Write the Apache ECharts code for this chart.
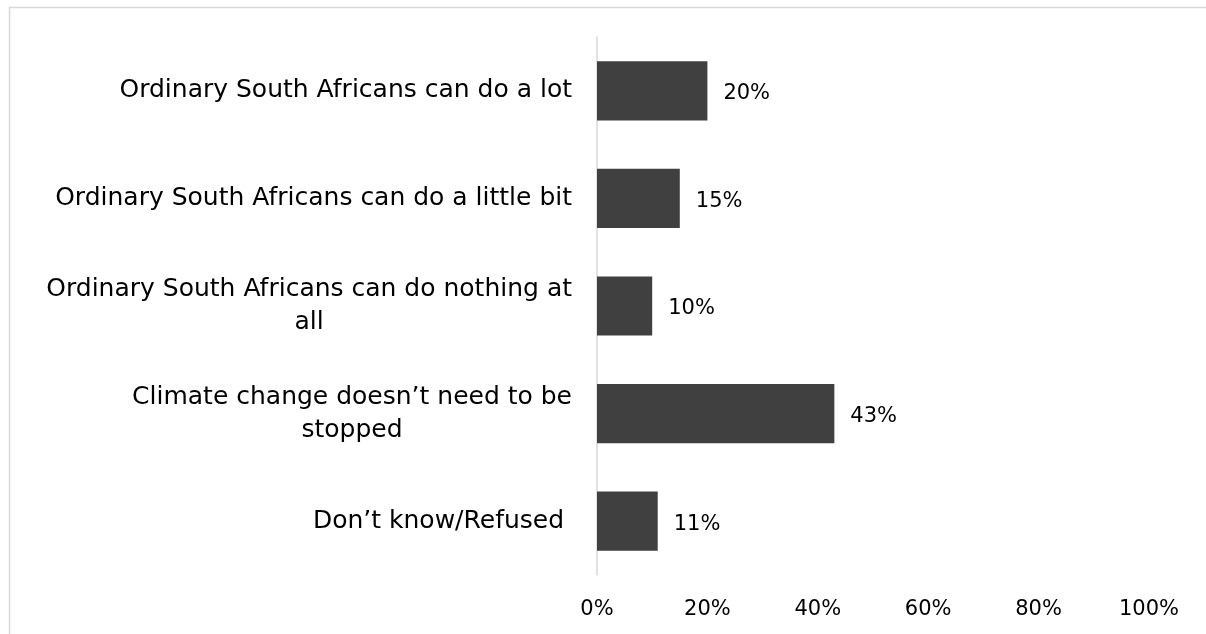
<!DOCTYPE html>
<html>
<head>
<meta charset="utf-8">
<script src="https://cdn.jsdelivr.net/npm/echarts@6/dist/echarts.min.js"></script>
<style>
html,body{margin:0;padding:0;background:#fff;}
#chart{width:1206px;height:634px;}
</style>
</head>
<body>
<div id="chart"></div>
<script>
const categories = [
  "Ordinary South Africans can do a lot",
  "Ordinary South Africans can do a little bit",
  "Ordinary South Africans can do nothing at\nall",
  "Climate change doesn\u2019t need to be\nstopped",
  "Don\u2019t know/Refused "
];
const values = [20, 15, 10, 43, 11];
const xTicks = [0, 20, 40, 60, 80, 100];

const FONT = "DejaVu Sans";
const chart = echarts.init(document.getElementById('chart'), null, {renderer: 'canvas'});
chart.setOption({
  animation: false,
  backgroundColor: '#ffffff',
  graphic: [{
    type: 'rect',
    shape: {x: 9.5, y: 7.5, width: 1400, height: 800},
    style: {fill: 'none', stroke: '#d9d9d9', lineWidth: 1.5},
    silent: true
  }],
  grid: {left: 597, right: 57, top: 37, bottom: 59, containLabel: false},
  xAxis: {
    type: 'value',
    min: xTicks[0],
    max: xTicks[xTicks.length - 1],
    interval: 20,
    axisLine: {show: false},
    axisTick: {show: false},
    splitLine: {show: false},
    axisLabel: {
      formatter: v => v + '%',
      color: '#000',
      fontFamily: FONT,
      fontSize: 21,
      margin: 24
    }
  },
  yAxis: {
    type: 'category',
    data: categories,
    inverse: true,
    axisLine: {show: true, lineStyle: {color: '#d9d9d9', width: 1.5}},
    axisTick: {show: false},
    splitLine: {show: false},
    axisLabel: {
      margin: 25,
      color: '#000',
      fontFamily: FONT,
      fontSize: 25,
      lineHeight: 33,
      formatter: v => v.split('\n').map(s => '{c|' + s + '}').join('\n'),
      rich: {
        c: {align: 'center', color: '#000', fontFamily: FONT, fontSize: 25, lineHeight: 33}
      }
    }
  },
  series: [{
    type: 'bar',
    data: values,
    barWidth: '55%',
    itemStyle: {color: '#404040'},
    label: {
      show: true,
      position: 'right',
      distance: 16,
      formatter: p => p.value + '%',
      color: '#000',
      fontFamily: FONT,
      fontSize: 21,
      offset: [0, 3]
    }
  }]
});
</script>
</body>
</html>
